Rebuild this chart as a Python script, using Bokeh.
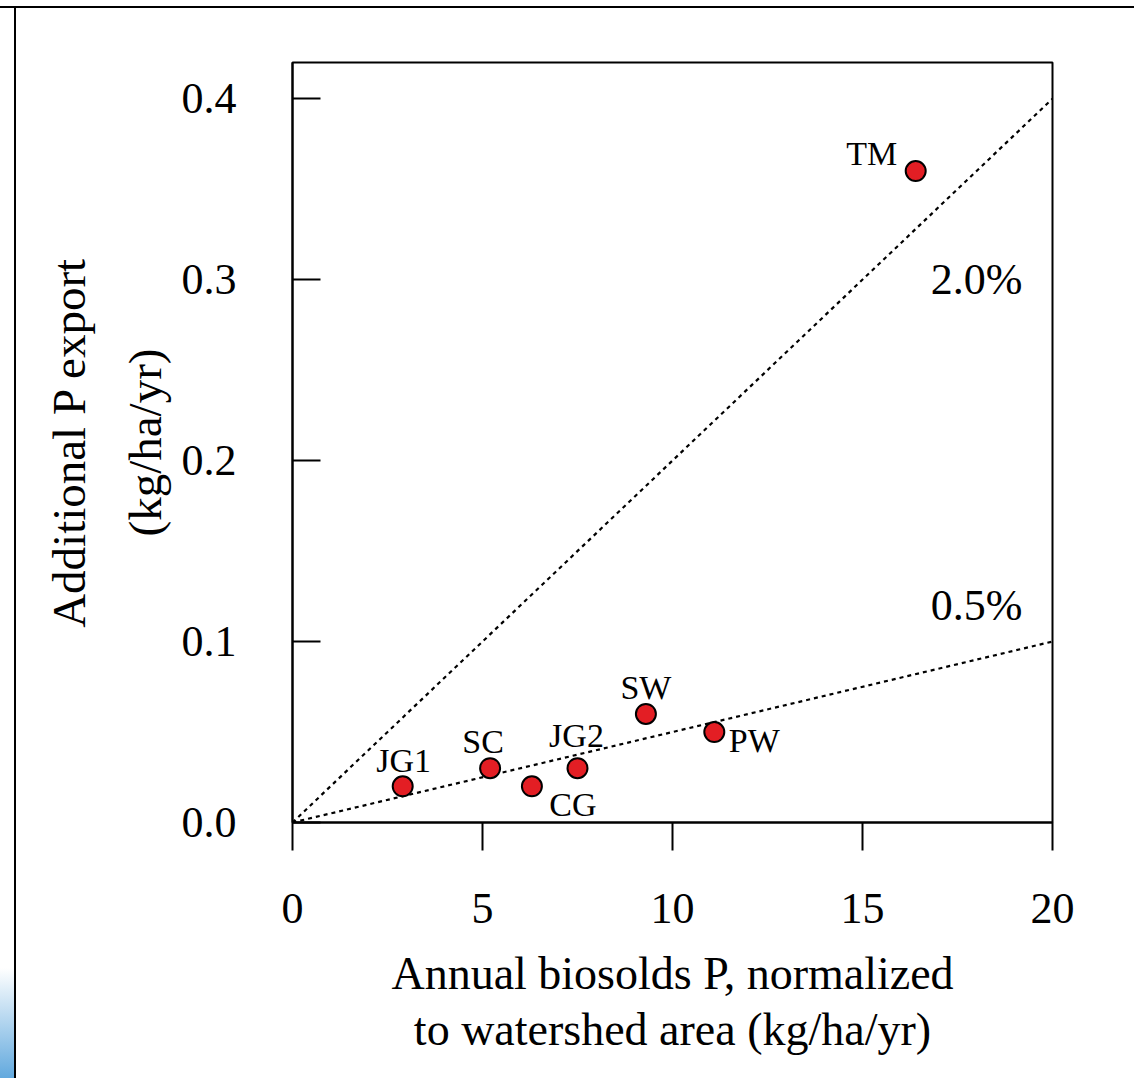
import numpy as np
from bokeh.plotting import figure
from bokeh.models import Range1d, ColumnDataSource, LabelSet, Label
from bokeh.core.properties import value
from bokeh.embed import file_html
from bokeh.resources import INLINE

# ---------------- data ----------------
sites = ["JG1", "SC", "CG", "JG2", "SW", "PW", "TM"]
biosolids_p = [2.9, 5.2, 6.3, 7.5, 9.3, 11.1, 16.4]          # kg/ha/yr
extra_export = [0.02, 0.03, 0.02, 0.03, 0.06, 0.05, 0.36]     # kg/ha/yr
pct_rates = [0.02, 0.005]
pct_labels = ["2.0%", "0.5%"]
x_ticks = [0, 5, 10, 15, 20]
x_tick_labels = ["0", "5", "10", "15", "20"]
y_ticks = [0.0, 0.1, 0.2, 0.3, 0.4]
y_tick_labels = ["0.0", "0.1", "0.2", "0.3", "0.4"]

# ---------------- layout / style ----------------
FONT = "Liberation Serif"
label_dx = [1, -7, 41, -1, 0, 40, -44]
label_dy = [14, 15, -30, 21, 15, -20, 6]
pct_label_pos = [(18, 0.30), (18, 0.12)]

p = figure(frame_width=760, frame_height=760,
           min_border_left=276, min_border_right=76,
           min_border_top=54, min_border_bottom=256,
           x_range=Range1d(0, 20), y_range=Range1d(0, 0.42),
           output_backend="svg", toolbar_location=None)
# slide frame: thin black rule on the left and top, faint blue corner
p.styles = {
    "margin-top": "6px",
    "padding-left": "16px",
    "padding-right": "6px",
    "border-top": "2px solid black",
    "overflow": "hidden",
    "background-color": "white",
    "background-image": "linear-gradient(#000, #000), "
                        "linear-gradient(to bottom, rgba(255,255,255,1), #62a9de)",
    "background-size": "2px 100%, 16px 110px",
    "background-position": "14px 0px, 0px 100%",
    "background-repeat": "no-repeat",
}

p.xgrid.visible = False
p.ygrid.visible = False
p.outline_line_color = "black"
p.outline_line_width = 2
p.background_fill_color = "white"
p.border_fill_color = "white"

# x axis
xa = p.xaxis[0]
xa.ticker = x_ticks
xa.major_label_overrides = {t: l for t, l in zip(x_ticks, x_tick_labels)}
xa.minor_tick_line_color = None
xa.major_tick_in = 0
xa.major_tick_out = 28
xa.major_tick_line_width = 2
xa.axis_line_width = 2
xa.major_label_text_font = FONT
xa.major_label_text_font_size = "44px"
xa.major_label_text_color = "black"
xa.major_label_standoff = 43
xa.axis_label = "Annual biosolds P, normalized\nto watershed area (kg/ha/yr)"
xa.axis_label_text_font = FONT
xa.axis_label_text_font_size = "46px"
xa.axis_label_text_font_style = "normal"
xa.axis_label_text_color = "black"
xa.axis_label_text_line_height = 1.1
xa.axis_label_standoff = 22

# y axis
ya = p.yaxis[0]
ya.ticker = y_ticks
ya.major_label_overrides = {t: l for t, l in zip(y_ticks, y_tick_labels)}
ya.minor_tick_line_color = None
ya.major_tick_in = 28
ya.major_tick_out = 0
ya.major_tick_line_width = 2
ya.axis_line_width = 2
ya.major_label_text_font = FONT
ya.major_label_text_font_size = "44px"
ya.major_label_text_color = "black"
ya.major_label_standoff = 56
ya.axis_label = "Additional P export\n(kg/ha/yr)"
ya.axis_label_text_font = FONT
ya.axis_label_text_font_size = "47px"
ya.axis_label_text_font_style = "normal"
ya.axis_label_text_color = "black"
ya.axis_label_text_line_height = 1.45
ya.axis_label_standoff = 8

# reference percentage lines
x_end = np.array([x_ticks[0], x_ticks[-1]], dtype=float)
for r in pct_rates:
    p.line(x_end, r * x_end, line_color="black", line_width=2.2, line_dash="4 4")

# points
src = ColumnDataSource(dict(x=biosolids_p, y=extra_export, name=sites,
                            dx=label_dx, dy=label_dy))
p.scatter("x", "y", source=src, size=20, fill_color="#e31e24",
          line_color="black", line_width=2)

labels = LabelSet(x="x", y="y", text="name", source=src,
                  x_offset="dx", y_offset="dy",
                  text_align="center", text_baseline="alphabetic",
                  text_font=value(FONT), text_font_size="34px",
                  text_color="black")
p.add_layout(labels)

for (lx, ly), txt in zip(pct_label_pos, pct_labels):
    p.add_layout(Label(x=lx, y=ly, text=txt, text_align="center",
                       text_baseline="middle", text_font=FONT,
                       text_font_size="44px", text_color="black"))

open("out.html", "w").write(file_html(p, INLINE))
